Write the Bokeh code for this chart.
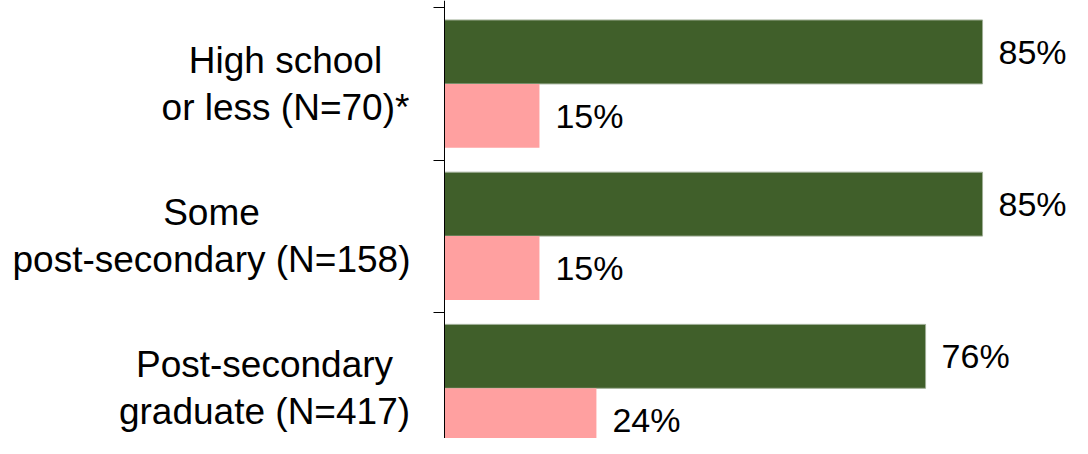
from bokeh.plotting import figure
from bokeh.models import Range1d, LinearAxis, FixedTicker, ColumnDataSource, CustomJSTickFormatter
from bokeh.core.properties import value
from bokeh.transform import dodge
from bokeh.embed import file_html
from bokeh.resources import INLINE

# ---- data ----
categories = [
    "High school\nor less (N=70)*",
    "Some\npost-secondary (N=158)",
    "Post-secondary\ngraduate (N=417)",
]
series_green = [85, 85, 76]
series_pink = [15, 15, 24]

# ---- build ----
idx = list(range(len(categories)))
src = ColumnDataSource(dict(
    y=idx,
    cat=categories,
    green=series_green,
    pink=series_pink,
    green_lbl=[f"{v}%" for v in series_green],
    pink_lbl=[f"{v}%" for v in series_pink],
    label_dx=[-159, -233, -180],   # pixel offsets of the centred category labels
))

W, H = 1072, 438
px_per_pct = 6.33
axis_px = 444.0
group_px = 152.2
top_px = 7.3

y_top = -0.5 - top_px / group_px
p = figure(width=W, height=H, output_backend="svg", toolbar_location=None,
           x_range=Range1d(-axis_px / px_per_pct, (W - axis_px) / px_per_pct),
           y_range=Range1d(y_top + H / group_px, y_top),
           x_axis_location=None, y_axis_location=None, min_border=0)
p.outline_line_color = None
p.background_fill_color = "white"
p.border_fill_color = "white"
p.xgrid.visible = False
p.ygrid.visible = False

GREEN = "#405F2A"
PINK = "#FFA0A0"
bar_h = 0.42
off = 0.21

p.hbar(y=dodge("y", -off, range=p.y_range), left=0, right="green", height=bar_h,
       source=src, fill_color=GREEN, line_color="#9fae96", line_width=1)
p.hbar(y=dodge("y", off, range=p.y_range), left=0, right="pink", height=bar_h,
       source=src, fill_color=PINK, line_color=None)

font = value("Liberation Sans")
p.text(x="green", y=dodge("y", -off, range=p.y_range), text="green_lbl", source=src,
       x_offset=16, text_align="left", text_baseline="middle",
       text_font=font, text_font_size="34px", text_color="black")
p.text(x="pink", y=dodge("y", off, range=p.y_range), text="pink_lbl", source=src,
       x_offset=16, text_align="left", text_baseline="middle",
       text_font=font, text_font_size="34px", text_color="black")

p.text(x=0, y="y", text="cat", source=src, x_offset="label_dx",
       text_align="center", text_baseline="middle", text_line_height=1.15,
       text_font=font, text_font_size="37px", text_color="black")

ax = LinearAxis(fixed_location=0,
                ticker=FixedTicker(ticks=[-0.5, 0.5, 1.5, 2.5]),
                formatter=CustomJSTickFormatter(code="return ''"),
                major_tick_in=11, major_tick_out=0,
                minor_tick_in=0, minor_tick_out=0,
                major_label_standoff=0, major_label_text_font_size="1px",
                axis_line_color="black", axis_line_width=1,
                major_tick_line_color="black", major_tick_line_width=1)
p.add_layout(ax, "right")

open("out.html", "w").write(file_html(p, INLINE))
